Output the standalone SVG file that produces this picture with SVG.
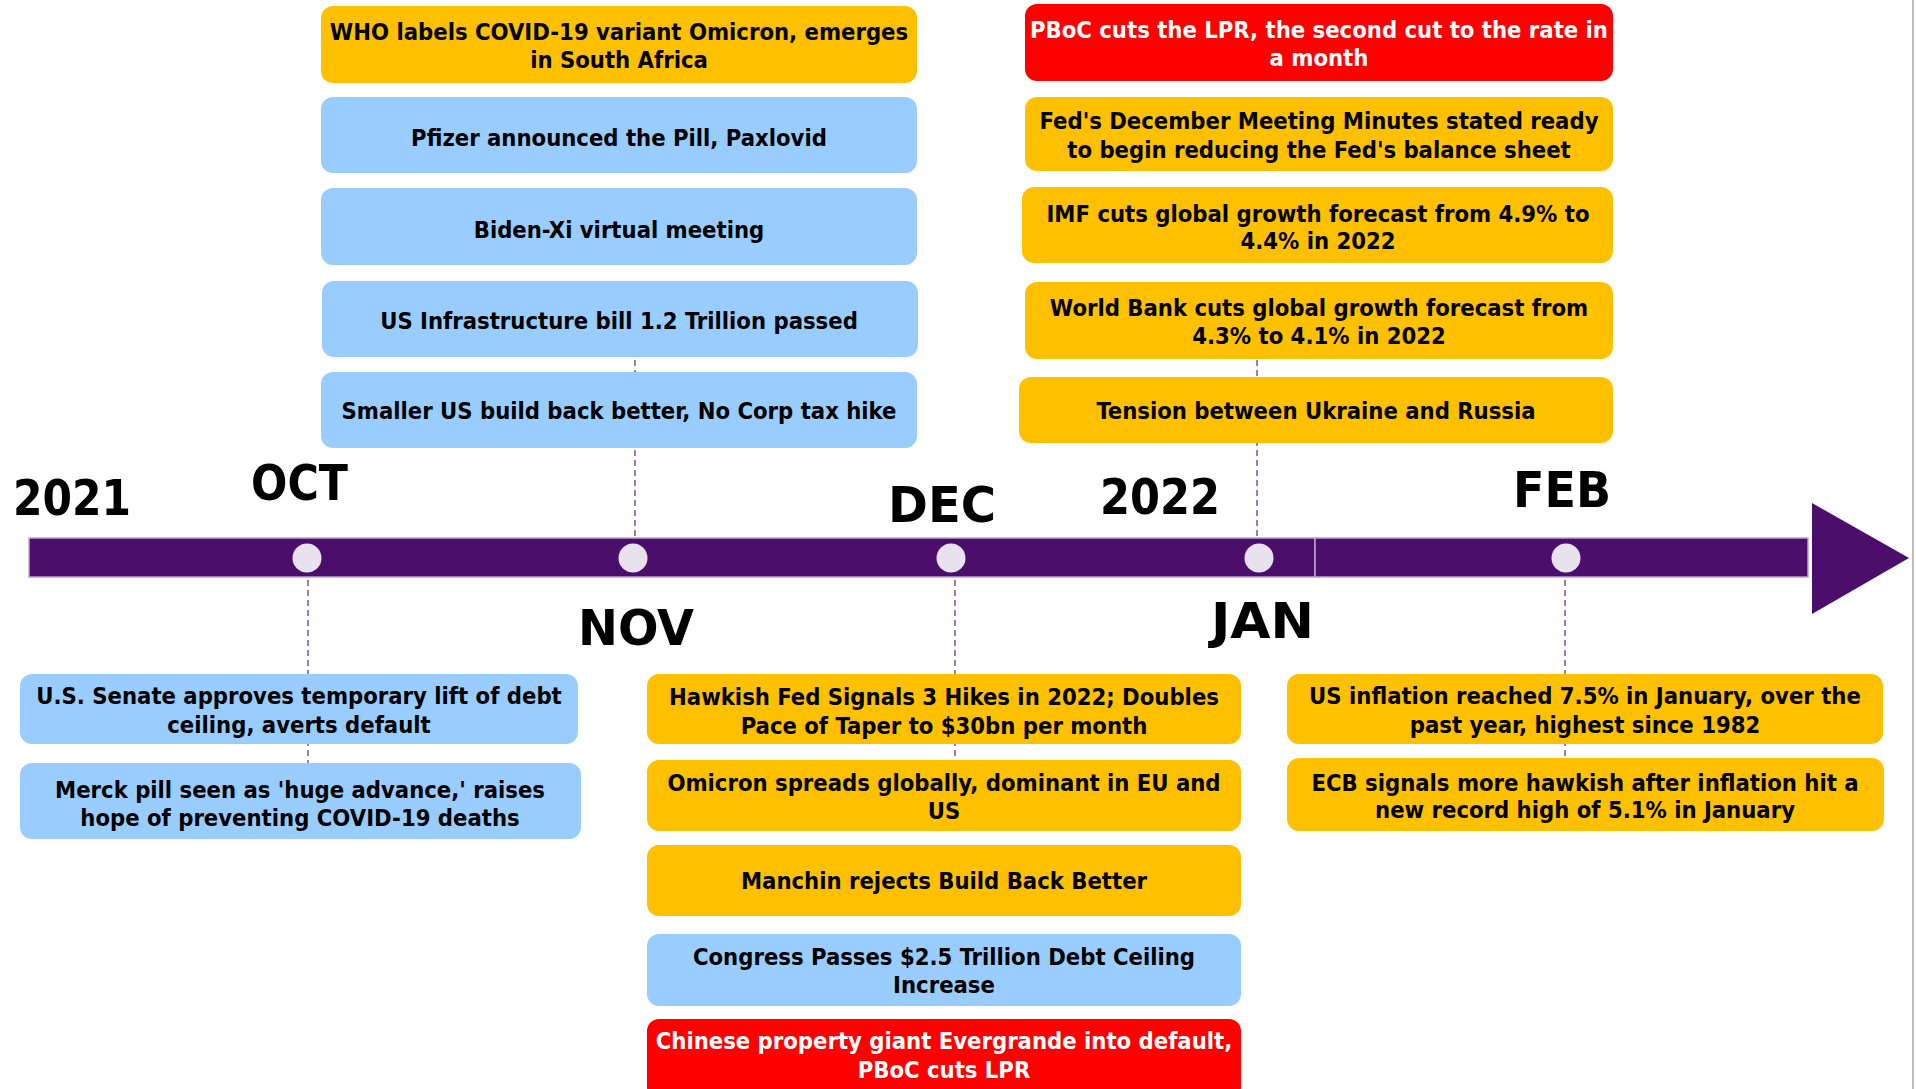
<svg xmlns="http://www.w3.org/2000/svg" width="1916" height="1089" viewBox="0 0 1916 1089">
<style>
.t{font-family:"DejaVu Sans Condensed","DejaVu Sans","Liberation Sans",sans-serif;font-weight:bold;font-size:23.6px;text-anchor:middle;fill:#000}
.w{fill:#fff}
.lbl{font-family:"DejaVu Sans Condensed","DejaVu Sans","Liberation Sans",sans-serif;font-weight:bold;font-size:50px;fill:#000}
.o{fill:#FFC000}
.b{fill:#99CCFF}
.r{fill:#FF0000}
.dash{stroke:#7E4FA6;stroke-width:1.5;stroke-dasharray:6 4;fill:none}
.bar{fill:#4B0E6B;stroke:#B9A5CF;stroke-width:1.5}
.dot{fill:#E8E2EE}
</style>
<rect x="0" y="0" width="1916" height="1089" fill="#fff"/>
<line x1="1913" y1="0" x2="1913" y2="1089" stroke="#A8A8A8" stroke-width="1.5"/>
<g id="connectors">
<line class="dash" x1="635" y1="290" x2="635" y2="538"/>
<line class="dash" x1="1257" y1="290" x2="1257" y2="538"/>
<line class="dash" x1="308" y1="580" x2="308" y2="770"/>
<line class="dash" x1="955" y1="580" x2="955" y2="770"/>
<line class="dash" x1="1565" y1="580" x2="1565" y2="770"/>
</g>
<g id="timeline">
<rect class="bar" x="29" y="538" width="1286" height="39"/>
<rect class="bar" x="1315" y="538" width="493" height="39"/>
<polygon points="1812,503 1909,558 1812,614" fill="#4B0E6B"/>
<circle class="dot" cx="307" cy="558" r="14.5"/>
<circle class="dot" cx="633" cy="558" r="14.5"/>
<circle class="dot" cx="951" cy="558" r="14.5"/>
<circle class="dot" cx="1259" cy="558" r="14.5"/>
<circle class="dot" cx="1566" cy="558" r="14.5"/>
</g>
<g id="labels">
<text class="lbl" x="13" y="515" font-size="48" textLength="118" lengthAdjust="spacingAndGlyphs">2021</text>
<text class="lbl" x="251" y="500" font-size="49" textLength="97" lengthAdjust="spacingAndGlyphs">OCT</text>
<text class="lbl" x="578" y="645" font-size="54" textLength="116" lengthAdjust="spacingAndGlyphs">NOV</text>
<text class="lbl" x="888" y="522" font-size="53" textLength="108" lengthAdjust="spacingAndGlyphs">DEC</text>
<text class="lbl" x="1100" y="514" font-size="49" textLength="120" lengthAdjust="spacingAndGlyphs">2022</text>
<text class="lbl" x="1211" y="638" font-size="55" textLength="103" lengthAdjust="spacingAndGlyphs">JAN</text>
<text class="lbl" x="1513" y="507" font-size="51" textLength="98" lengthAdjust="spacingAndGlyphs">FEB</text>
</g>
<g id="n-who"><rect class="o" x="321" y="6" width="596" height="77" rx="12"/><text class="t" x="619" y="40">WHO labels COVID-19 variant Omicron, emerges</text><text class="t" x="619" y="68">in South Africa</text></g>
<g id="n-pfizer"><rect class="b" x="321" y="97" width="596" height="76" rx="12"/><text class="t" x="619" y="146">Pfizer announced the Pill, Paxlovid</text></g>
<g id="n-biden"><rect class="b" x="321" y="188" width="596" height="77" rx="12"/><text class="t" x="619" y="238">Biden-Xi virtual meeting</text></g>
<g id="n-infra"><rect class="b" x="322" y="281" width="596" height="76" rx="12"/><text class="t" x="619" y="329">US Infrastructure bill 1.2 Trillion passed</text></g>
<g id="n-bbb"><rect class="b" x="321" y="372" width="596" height="76" rx="12"/><text class="t" x="619" y="419">Smaller US build back better, No Corp tax hike</text></g>
<g id="n-pboc1"><rect class="r" x="1025" y="4" width="588" height="77" rx="12"/><text class="t w" x="1319" y="38">PBoC cuts the LPR, the second cut to the rate in</text><text class="t w" x="1319" y="66">a month</text></g>
<g id="n-fedmin"><rect class="o" x="1025" y="97" width="588" height="74" rx="12"/><text class="t" x="1319" y="129">Fed's December Meeting Minutes stated ready</text><text class="t" x="1319" y="158">to begin reducing the Fed's balance sheet</text></g>
<g id="n-imf"><rect class="o" x="1022" y="187" width="591" height="76" rx="12"/><text class="t" x="1318" y="222">IMF cuts global growth forecast from 4.9% to</text><text class="t" x="1318" y="249">4.4% in 2022</text></g>
<g id="n-wb"><rect class="o" x="1025" y="282" width="588" height="77" rx="12"/><text class="t" x="1319" y="316">World Bank cuts global growth forecast from</text><text class="t" x="1319" y="344">4.3% to 4.1% in 2022</text></g>
<g id="n-ukr"><rect class="o" x="1019" y="377" width="594" height="66" rx="12"/><text class="t" x="1316" y="419">Tension between Ukraine and Russia</text></g>
<g id="n-senate"><rect class="b" x="20" y="674" width="558" height="70" rx="12"/><text class="t" x="299" y="704">U.S. Senate approves temporary lift of debt</text><text class="t" x="299" y="733">ceiling, averts default</text></g>
<g id="n-merck"><rect class="b" x="20" y="763" width="561" height="76" rx="12"/><text class="t" x="300" y="798">Merck pill seen as 'huge advance,' raises</text><text class="t" x="300" y="826">hope of preventing COVID-19 deaths</text></g>
<g id="n-hawk"><rect class="o" x="647" y="674" width="594" height="70" rx="12"/><text class="t" x="944" y="705">Hawkish Fed Signals 3 Hikes in 2022; Doubles</text><text class="t" x="944" y="734">Pace of Taper to $30bn per month</text></g>
<g id="n-omicron"><rect class="o" x="647" y="760" width="594" height="71" rx="12"/><text class="t" x="944" y="791">Omicron spreads globally, dominant in EU and</text><text class="t" x="944" y="819">US</text></g>
<g id="n-manchin"><rect class="o" x="647" y="845" width="594" height="71" rx="12"/><text class="t" x="944" y="889">Manchin rejects Build Back Better</text></g>
<g id="n-congress"><rect class="b" x="647" y="934" width="594" height="72" rx="12"/><text class="t" x="944" y="965">Congress Passes $2.5 Trillion Debt Ceiling</text><text class="t" x="944" y="993">Increase</text></g>
<g id="n-evergrande"><rect class="r" x="647" y="1019" width="594" height="80" rx="12"/><text class="t w" x="944" y="1049">Chinese property giant Evergrande into default,</text><text class="t w" x="944" y="1078">PBoC cuts LPR</text></g>
<g id="n-usinfl"><rect class="o" x="1287" y="674" width="596" height="70" rx="12"/><text class="t" x="1585" y="704">US inflation reached 7.5% in January, over the</text><text class="t" x="1585" y="733">past year, highest since 1982</text></g>
<g id="n-ecb"><rect class="o" x="1287" y="758" width="597" height="73" rx="12"/><text class="t" x="1585" y="791">ECB signals more hawkish after inflation hit a</text><text class="t" x="1585" y="818">new record high of 5.1% in January</text></g>
</svg>
